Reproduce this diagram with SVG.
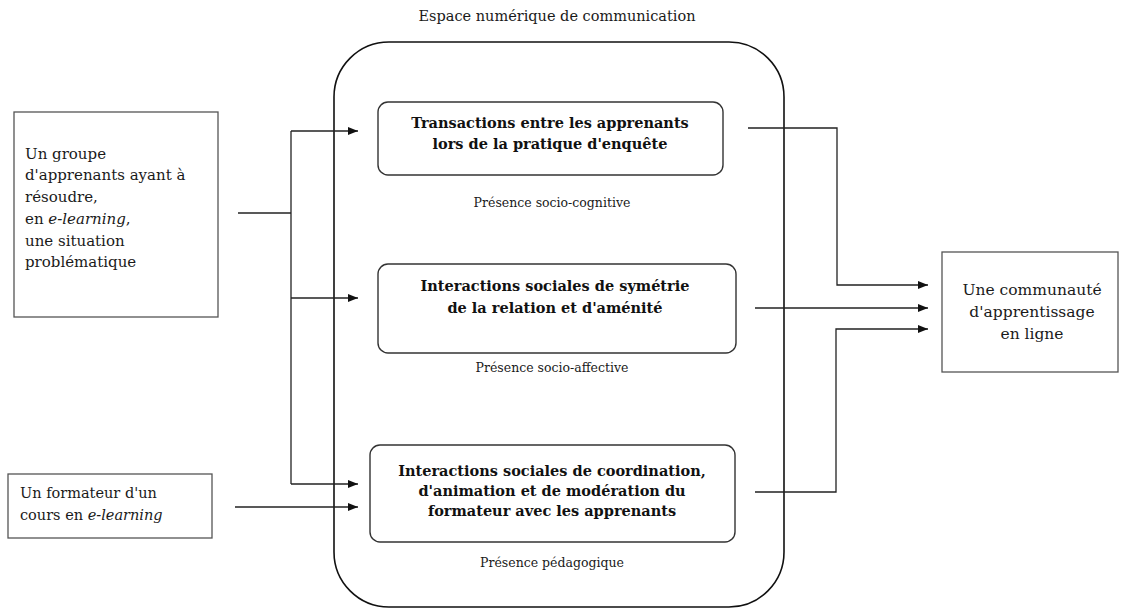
<svg xmlns="http://www.w3.org/2000/svg" width="1122" height="612" viewBox="0 0 1122 612">
<defs>
<marker id="arr" markerWidth="10" markerHeight="8" refX="10" refY="4" orient="auto" markerUnits="userSpaceOnUse">
<path d="M0,0 L10,4 L0,8 z" fill="#111"/>
</marker>
<style>
.t{font-family:"DejaVu Serif","Liberation Serif",serif;fill:#1a1a1a}
.b{font-family:"DejaVu Serif","Liberation Serif",serif;font-weight:bold;fill:#111;font-size:14.5px;text-anchor:middle}
.lbl{font-size:12.5px;text-anchor:middle}
.box{fill:#fff;stroke:#555;stroke-width:1.3}
.in{fill:#fff;stroke:#333;stroke-width:1.4}
.c{fill:none;stroke:#222;stroke-width:1.3}
.ca{fill:none;stroke:#222;stroke-width:1.3;marker-end:url(#arr)}
</style>
</defs>
<rect width="1122" height="612" fill="#fff"/>

<g id="espace">
<text class="t" x="557" y="21" font-size="14.5" text-anchor="middle">Espace numérique de communication</text>
<rect x="334" y="42" width="450" height="565" rx="55" ry="55" fill="none" stroke="#111" stroke-width="1.6"/>
</g>

<g id="groupe">
<rect class="box" x="14" y="112" width="204" height="205"/>
<text class="t" font-size="15">
<tspan x="25" y="159">Un groupe</tspan>
<tspan x="25" y="180">d'apprenants ayant à</tspan>
<tspan x="25" y="202">résoudre,</tspan>
<tspan x="25" y="224">en <tspan font-style="italic">e-learning</tspan>,</tspan>
<tspan x="25" y="246">une situation</tspan>
<tspan x="25" y="267">problématique</tspan>
</text>
</g>

<g id="formateur">
<rect class="box" x="8" y="474" width="204" height="64"/>
<text class="t" font-size="14.5">
<tspan x="20" y="498">Un formateur d'un</tspan>
<tspan x="20" y="520">cours en <tspan font-style="italic">e-learning</tspan></tspan>
</text>
</g>

<g id="transactions">
<rect class="in" x="378" y="102" width="345" height="73" rx="10"/>
<text class="b"><tspan x="550" y="128">Transactions entre les apprenants</tspan><tspan x="550" y="149">lors de la pratique d'enquête</tspan></text>
<text class="t lbl" x="552" y="207">Présence socio-cognitive</text>
</g>

<g id="symetrie">
<rect class="in" x="378" y="264" width="358" height="89" rx="10"/>
<text class="b"><tspan x="555" y="291">Interactions sociales de symétrie</tspan><tspan x="555" y="313">de la relation et d'aménité</tspan></text>
<text class="t lbl" x="552" y="372">Présence socio-affective</text>
</g>

<g id="coordination">
<rect class="in" x="370" y="445" width="365" height="97" rx="10"/>
<text class="b"><tspan x="552" y="476">Interactions sociales de coordination,</tspan><tspan x="552" y="496">d'animation et de modération du</tspan><tspan x="552" y="516">formateur avec les apprenants</tspan></text>
<text class="t lbl" x="552" y="567">Présence pédagogique</text>
</g>

<g id="communaute">
<rect class="box" x="942" y="252" width="176" height="120"/>
<text class="t" font-size="15.5" text-anchor="middle"><tspan x="1032" y="295">Une communauté</tspan><tspan x="1032" y="317">d'apprentissage</tspan><tspan x="1032" y="339">en ligne</tspan></text>
</g>

<g id="connectors">
<path class="c" d="M238,213 H291"/>
<path class="c" d="M291,131 V484"/>
<path class="ca" d="M291,131 H358"/>
<path class="ca" d="M291,298 H358"/>
<path class="ca" d="M291,484 H358"/>
<path class="ca" d="M235,507 H358"/>
<path class="ca" d="M748,128 H837 V285 H928"/>
<path class="ca" d="M755,308 H928"/>
<path class="ca" d="M755,492 H836 V329 H928"/>
</g>
</svg>
